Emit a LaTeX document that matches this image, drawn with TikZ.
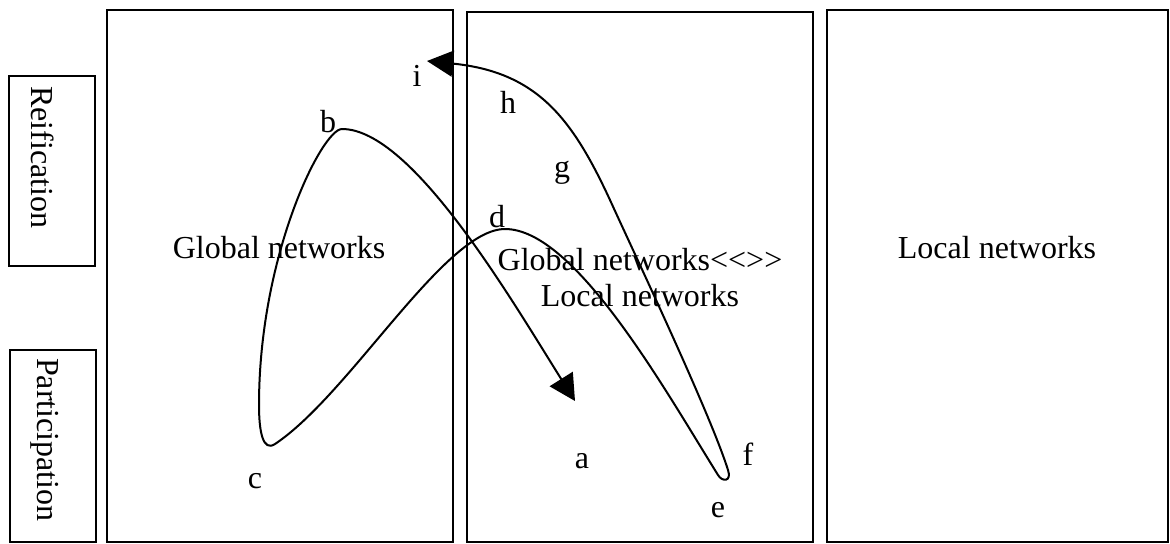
\documentclass[tikz,border=0pt]{standalone}
\usepackage{fontspec}
\setmainfont{Liberation Serif}
\usetikzlibrary{arrows.meta}
\begin{document}
\begin{tikzpicture}[x=0.5pt,y=-0.5pt,
  frame/.style={draw, line width=1pt, inner sep=0pt, outer sep=0pt},
  lbl/.style={font=\fontsize{16}{18}\selectfont, inner sep=0pt, outer sep=0pt, anchor=base},
  vlbl/.style={font=\fontsize{16}{18}\selectfont, inner sep=0pt, outer sep=0pt, anchor=base west, rotate=-90},
  curve/.style={line width=1pt, {Triangle[length=13pt,width=13.5pt]}-{Triangle[length=13pt,width=13pt]}}]
\useasboundingbox (0,0) rectangle (1170,543);
% boxes
\node[frame, minimum width=43pt, minimum height=95pt] (reif) at (52,171) {};
\node[frame, minimum width=43pt, minimum height=95.75pt] (part) at (53,445.75) {};
\node[frame, minimum width=173pt, minimum height=266pt] (gbox) at (280,275.5) {};
\node[frame, minimum width=173pt, minimum height=264.6pt] (mbox) at (640,277) {};
\node[frame, minimum width=170.5pt, minimum height=266pt] (lbox) at (997.5,275.5) {};
% side labels
\node[vlbl] (treif) at (32,86) {Reification};
\node[vlbl] (tpart) at (37,358) {Participation};
% box texts
\node[lbl] (tglob) at (279,258) {Global networks};
\node[lbl] (tloc) at (997,258) {Local networks};
\node[lbl, align=center, anchor=center] (tmid) at (640,277.5) {Global networks<\kern0pt<\kern0pt>\kern0pt>\\Local networks};
% letter labels
\node[lbl] (li) at (417,86) {i};
\node[lbl] (lh) at (508,113) {h};
\node[lbl] (lg) at (562,177) {g};
\node[lbl] (ld) at (497,227) {d};
\node[lbl] (lb) at (328,132) {b};
\node[lbl] (lc) at (255,488) {c};
\node[lbl] (la) at (582,468) {a};
\node[lbl] (le) at (718,517) {e};
\node[lbl] (lf) at (748,465) {f};
% curve points
\coordinate (ta) at (575,401);
\coordinate (pb) at (342,129);
\coordinate (cl) at (259,405);
\coordinate (cr) at (275,444);
\coordinate (pd) at (505,229);
\coordinate (el) at (718,475);
\coordinate (er) at (728,470);
\coordinate (pm) at (610,200);
\coordinate (ti) at (427,61);
\draw[curve] (ta) .. controls (511,299) and (412,129) .. (pb)
  .. controls (322,129) and (259,255) .. (cl)
  .. controls (259,432) and (263,452) .. (cr)
  .. controls (350,394) and (445,229) .. (pd)
  .. controls (575,229) and (665,390) .. (el)
  .. controls (722,482) and (732,482) .. (er)
  .. controls (710,413) and (635,255) .. (pm)
  .. controls (572,118) and (537,72) .. (ti);
\end{tikzpicture}
\end{document}
